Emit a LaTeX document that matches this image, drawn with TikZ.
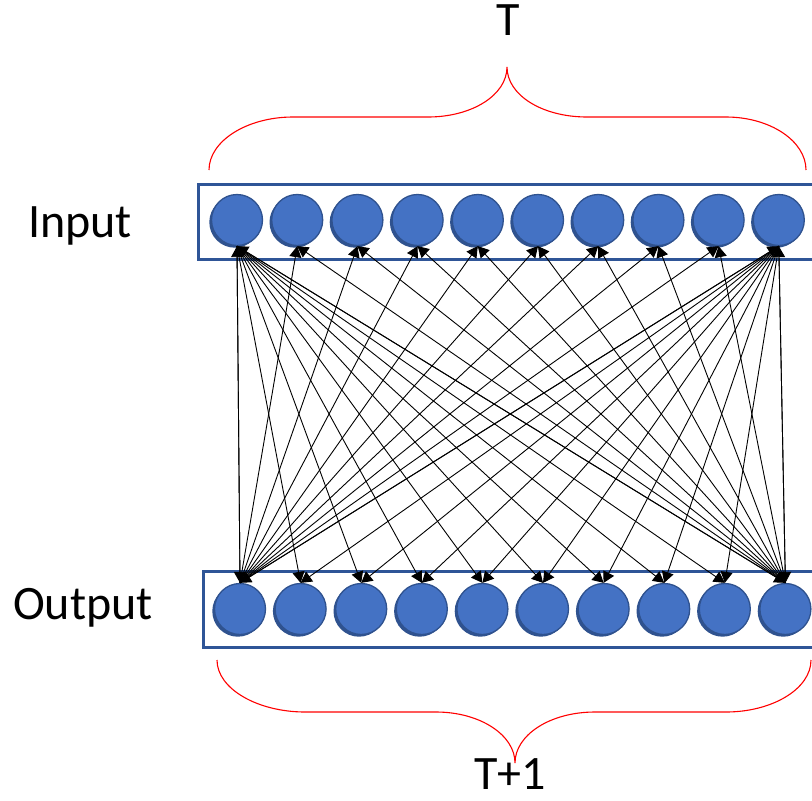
\documentclass[tikz,border=0pt]{standalone}
\usepackage{fontspec}
\setmainfont{Carlito}
\usetikzlibrary{arrows.meta,shadows}
\definecolor{nodefill}{HTML}{4472C4}
\definecolor{nodeedge}{HTML}{2F528F}
\definecolor{boxedge}{HTML}{2F5597}
\definecolor{bracered}{HTML}{FF0000}
\tikzset{
  unit/.style={circle, minimum size=51pt, inner sep=0pt, fill=nodefill, draw=nodeedge, line width=1.3pt,
    general shadow={fill=nodeedge, shadow xshift=-2.2pt, shadow yshift=-2.2pt}},
  layerbox/.style={draw=boxedge, line width=3pt},
  conn/.style={draw=black, line width=0.9pt, -{Triangle[length=11pt,width=12pt]}},
  bracepath/.style={draw=bracered, line width=1.1pt},
  lbl/.style={font=\fontsize{48}{56}\selectfont, inner sep=0pt, text=black}
}
\begin{document}
\begin{tikzpicture}[x=1pt,y=-1pt]
\clip (0,0) rectangle (812,801);
\fill[white] (0,0) rectangle (812,801);
% boxes
\draw[layerbox] (198,184) rectangle (850,259);
\draw[layerbox] (203,571) rectangle (850,647);
% units
\foreach \i in {1,...,10} {
  \node[unit] (in\i) at ({237+60.2*(\i-1)},220) {};
  \node[unit] (out\i) at ({240+60.6*(\i-1)},609) {};
}
% connections
\foreach \i in {1,10} {
  \foreach \j in {1,...,10} {
    \draw[conn] (in\i.south) -- (out\j.north);
  }
}
\foreach \j in {1,10} {
  \foreach \i in {1,...,10} {
    \draw[conn] (out\j.north) -- (in\i.south);
  }
}
% braces
\draw[bracepath] (209,170) .. controls (209,141) and (247,117) .. (293,117)
  -- (428,117) .. controls (472,117) and (507,95) .. (507,67)
  .. controls (507,95) and (542,117) .. (587,117)
  -- (726,117) .. controls (770,117) and (806,141) .. (806,170);
\draw[bracepath] (217,660) .. controls (217,689) and (258,712) .. (305,712)
  -- (436,712) .. controls (480,712) and (515,735) .. (515,763)
  .. controls (515,735) and (550,712) .. (595,712)
  -- (726,712) .. controls (772,712) and (811,689) .. (811,660);
% labels
\node[lbl] (tlab) at (508,20) {T};
\node[lbl] (t1lab) at (510,774) {T+1};
\node[lbl] (inlab) at (80,226) {Input};
\node[lbl] (outlab) at (83,608) {Output};
\end{tikzpicture}
\end{document}
